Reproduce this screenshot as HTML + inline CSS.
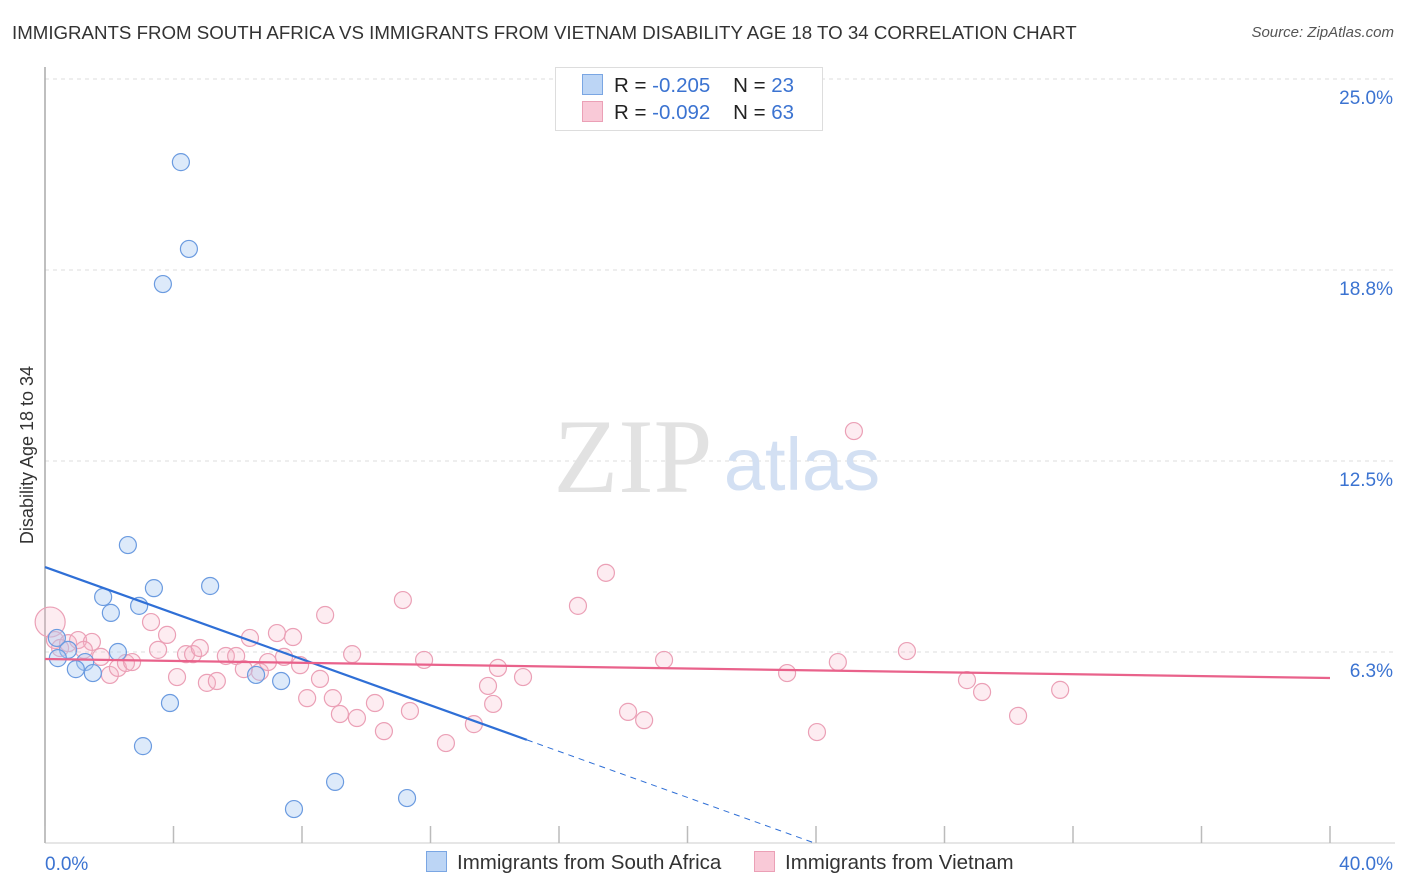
<!DOCTYPE html>
<html><head><meta charset="utf-8"><style>
body{margin:0;background:#fff;font-family:"Liberation Sans",sans-serif;}
#wrap{position:relative;width:1406px;height:892px;overflow:hidden;}
.t{position:absolute;white-space:nowrap;}
</style></head><body>
<div id="wrap">
<div class="t" style="left:12px;top:22px;font-size:18.7px;color:#333;">IMMIGRANTS FROM SOUTH AFRICA VS IMMIGRANTS FROM VIETNAM DISABILITY AGE 18 TO 34 CORRELATION CHART</div>
<div class="t" style="right:12px;top:24px;font-size:15px;color:#555;font-style:italic;">Source: ZipAtlas.com</div>
<svg id="svg" width="1406" height="892" style="position:absolute;left:0;top:0"></svg>
</div>
<script>
const yTicks=[25.0,18.8,12.5,6.3];
const yTickVals=[25,18.75,12.5,6.25];
const xTickLabels=["0.0%","40.0%"];
const saX=[4.23,4.48,3.67,2.58,3.39,5.14,1.81,2.93,2.05,0.37,0.72,2.27,0.40,1.25,0.96,1.49,6.57,7.35,3.89,3.05,9.03,7.75,11.27];
const saY=[22.28,19.44,18.29,9.75,8.34,8.41,8.05,7.76,7.53,6.71,6.32,6.25,6.05,5.92,5.69,5.56,5.50,5.30,4.58,3.17,2.00,1.11,1.47];
const vnX=[0.16,0.31,0.47,0.72,1.03,1.46,1.21,1.74,2.02,2.27,2.52,2.71,3.30,3.80,3.52,4.11,4.39,4.61,4.82,5.04,5.35,5.63,5.95,6.19,6.38,6.69,6.94,7.22,7.44,7.72,7.94,8.16,8.56,8.72,8.96,9.18,9.56,9.71,10.27,10.55,11.14,11.36,11.80,12.48,13.35,13.79,13.95,14.10,14.88,16.59,17.46,18.15,18.65,19.27,23.10,24.03,24.68,25.18,26.83,28.70,29.17,30.29,31.60];
const vnY=[7.23,6.64,6.38,6.54,6.64,6.58,6.32,6.09,5.50,5.73,5.89,5.92,7.23,6.81,6.32,5.43,6.18,6.18,6.38,5.24,5.30,6.12,6.12,5.69,6.71,5.60,5.92,6.87,6.09,6.74,5.82,4.74,5.37,7.46,4.74,4.22,6.18,4.09,4.58,3.66,7.95,4.32,5.99,3.27,3.89,5.14,4.55,5.73,5.43,7.76,8.84,4.29,4.02,5.99,5.56,3.63,5.92,13.48,6.28,5.33,4.94,4.16,5.01];
const saTrend=[9.03,-0.377];
const vnTrend=[6.02,-0.0155];
const svg=document.getElementById('svg');const NS='http://www.w3.org/2000/svg';
const X=v=>45+v*32.125, Y=v=>843-v*30.56;
function mk(tag,a,p){const e=document.createElementNS(NS,tag);for(const k in a)e.setAttribute(k,a[k]);(p||svg).appendChild(e);return e;}
yTickVals.forEach((v,i)=>{
 const g=mk('line',{x1:45,x2:1395,y1:Y(v),y2:Y(v),stroke:'#ddd','stroke-dasharray':'4,4'});
 
 
 const t=mk('text',{x:1393,y:Y(v)+25,'text-anchor':'end','font-size':19,fill:'#3b73d1','font-family':'Liberation Sans'});
 t.textContent=yTicks[i].toFixed(1)+'%';
 
 
});
mk('line',{x1:45,x2:45,y1:67,y2:843,stroke:'#aaa','stroke-width':1.5});
mk('line',{x1:45,x2:1395,y1:843,y2:843,stroke:'#ccc'});
for(let i=0;i<=10;i++){const tk=mk('line',{x1:X(i*4),x2:X(i*4),y1:826,y2:843,stroke:'#bbb','stroke-width':1.5});
 
 }
[[45,'start'],[1393,'end']].forEach((p,i)=>{const t=mk('text',{x:p[0],y:870,'text-anchor':p[1],'font-size':19,fill:'#3b73d1','font-family':'Liberation Sans'});t.textContent=xTickLabels[i];
 
 });
const yl=mk('text',{transform:'translate(33,455) rotate(-90)','text-anchor':'middle','font-size':18,fill:'#333','font-family':'Liberation Sans'});yl.textContent='Disability Age 18 to 34';


const w1=mk('text',{x:633,y:492,'text-anchor':'middle','font-size':106,fill:'#e2e2e2','font-family':'Liberation Serif'});w1.textContent='ZIP';


const w2=mk('text',{x:802,y:490,'text-anchor':'middle','font-size':74,fill:'#d3e0f3','font-family':'Liberation Sans'});w2.textContent='atlas';


vnX.forEach((x,i)=>{const c=mk('circle',{cx:X(x),cy:Y(vnY[i]),r:i===0?15:8.5,fill:'rgba(248,180,200,0.25)',stroke:'#eba0b6','stroke-width':1.2});
 
 });
saX.forEach((x,i)=>{const c=mk('circle',{cx:X(x),cy:Y(saY[i]),r:8.5,fill:'rgba(170,202,242,0.4)',stroke:'#6b9be0','stroke-width':1.2});
 
 });
const sx1=15, sx2=(0-saTrend[0])/saTrend[1];
const l1=mk('line',{x1:X(0),y1:Y(saTrend[0]),x2:X(sx1),y2:Y(saTrend[0]+saTrend[1]*sx1),stroke:'#2f6fd6','stroke-width':2.2});


const l2=mk('line',{x1:X(sx1),y1:Y(saTrend[0]+saTrend[1]*sx1),x2:X(sx2),y2:Y(0),stroke:'#2f6fd6','stroke-width':1,'stroke-dasharray':'6,5'});


const l3=mk('line',{x1:X(0),y1:Y(vnTrend[0]),x2:X(40),y2:Y(vnTrend[0]+vnTrend[1]*40),stroke:'#e9628b','stroke-width':2.2});


</script>
<div class="t" style="left:555px;top:67px;width:266px;height:62px;border:1px solid #ddd;background:#fff;"></div>
<div class="t" style="left:582px;top:74px;font-size:20.5px;color:#222;"><span style="display:inline-block;width:19px;height:19px;background:#bcd5f5;border:1px solid #7aa6e3;vertical-align:-3px;margin-right:11px"></span>R = <span style="color:#3b73d1">-0.205</span>&nbsp;&nbsp;&nbsp;&nbsp;N = <span style="color:#3b73d1">23</span></div>
<div class="t" style="left:582px;top:101px;font-size:20.5px;color:#222;"><span style="display:inline-block;width:19px;height:19px;background:#f9c9d7;border:1px solid #eba0b6;vertical-align:-3px;margin-right:11px"></span>R = <span style="color:#3b73d1">-0.092</span>&nbsp;&nbsp;&nbsp;&nbsp;N = <span style="color:#3b73d1">63</span></div>
<div class="t" style="left:426px;top:851px;font-size:20.5px;color:#333;"><span style="display:inline-block;width:19px;height:19px;background:#bcd5f5;border:1px solid #7aa6e3;vertical-align:-3px;margin-right:10px"></span>Immigrants from South Africa</div>
<div class="t" style="left:754px;top:851px;font-size:20.5px;color:#333;"><span style="display:inline-block;width:19px;height:19px;background:#f9c9d7;border:1px solid #eba0b6;vertical-align:-3px;margin-right:10px"></span>Immigrants from Vietnam</div>
</body></html>
